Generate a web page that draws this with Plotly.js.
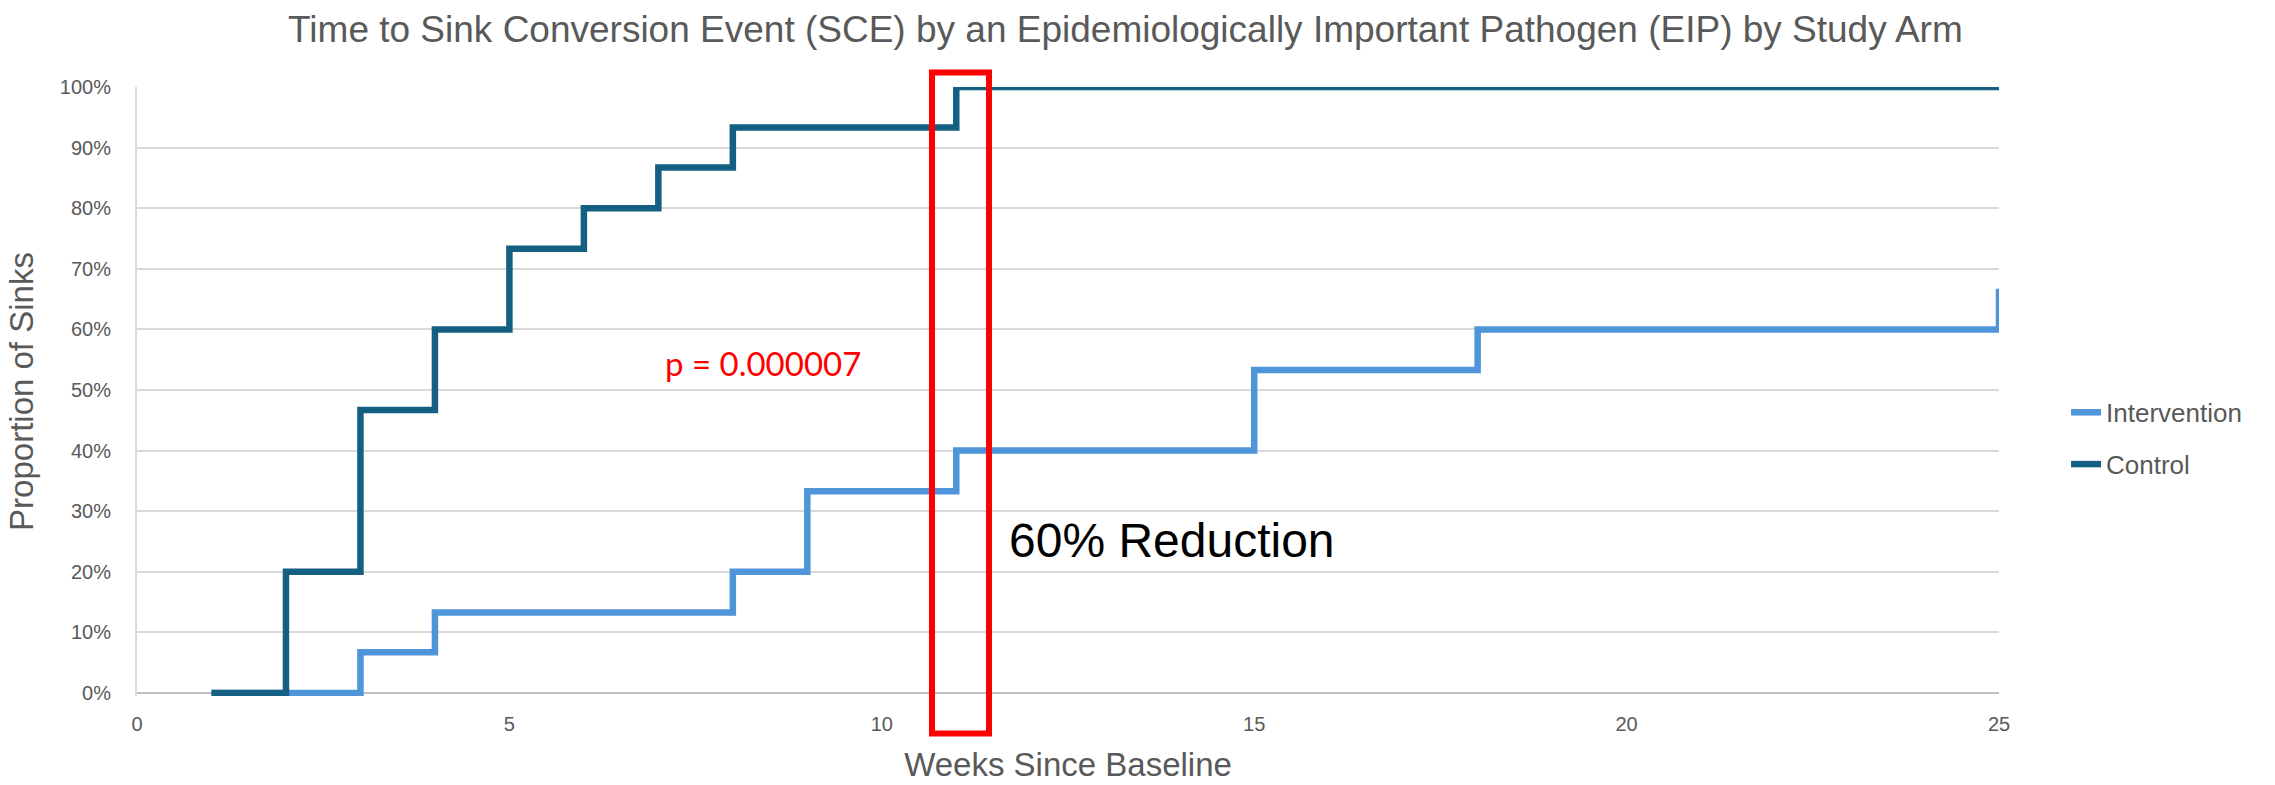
<!DOCTYPE html>
<html>
<head>
<meta charset="utf-8">
<script src="https://cdn.plot.ly/plotly-3.0.1.min.js"></script>
<style>
  html, body { margin: 0; padding: 0; background: #ffffff; }
  #chart { width: 2275px; height: 785px; }
</style>
</head>
<body>
<div id="chart"></div>
<script>
// ---- Data ----
const seriesNames = ["Intervention", "Control"];
const interventionWeeks = [1, 3, 4, 8, 9, 11, 15, 18, 25];
const interventionProp  = [0, 0.067, 0.133, 0.2, 0.333, 0.4, 0.533, 0.6, 0.667];
const controlWeeks = [1, 2, 3, 4, 5, 6, 7, 8, 11, 25];
const controlProp  = [0, 0.2, 0.467, 0.6, 0.733, 0.8, 0.867, 0.933, 1, 1];
const xTickVals = [0, 5, 10, 15, 20, 25];
const yTickVals = [0, 0.1, 0.2, 0.3, 0.4, 0.5, 0.6, 0.7, 0.8, 0.9, 1];
const titleText = "Time to Sink Conversion Event (SCE) by an Epidemiologically Important Pathogen (EIP) by Study Arm";
const xTitleText = "Weeks Since Baseline";
const yTitleText = "Proportion of Sinks";
const pValueText = "p = 0.000007";
const reductionText = "60% Reduction";

const gray = "#595959";
const baseFont = "Liberation Sans, Arial, sans-serif";

const traces = [
  {
    x: interventionWeeks, y: interventionProp, name: seriesNames[0],
    type: "scatter", mode: "lines", line: { shape: "hv", color: "#4e95d9", width: 6.5 },
    legendgroup: "a"
  },
  {
    x: controlWeeks, y: controlProp, name: seriesNames[1],
    type: "scatter", mode: "lines", line: { shape: "hv", color: "#156082", width: 6.5 },
    legendgroup: "b"
  }
];

const layout = {
  width: 2275, height: 785,
  margin: { l: 137, r: 276, t: 87, b: 89, pad: 0 },
  paper_bgcolor: "#ffffff", plot_bgcolor: "#ffffff",
  font: { family: baseFont, color: gray },
  title: {
    text: titleText, font: { family: baseFont, size: 37, color: gray },
    x: 0.4947, xref: "container", xanchor: "center",
    y: 0.963, yref: "container", yanchor: "middle"
  },
  xaxis: {
    range: [0, 25], tickvals: xTickVals, ticks: "", showgrid: false,
    zeroline: false, showline: false,
    tickfont: { size: 20, color: gray }, ticklabelstandoff: 14,
    title: { text: xTitleText, font: { size: 33, color: gray }, standoff: 18 }
  },
  yaxis: {
    range: [-0.005, 1], tickvals: yTickVals, tickformat: ".0%", ticks: "",
    showgrid: true, gridcolor: "#d9d9d9", gridwidth: 2,
    zeroline: true, zerolinecolor: "#bfbfbf", zerolinewidth: 2,
    showline: true, linecolor: "#d9d9d9", linewidth: 2,
    tickfont: { size: 20, color: gray }, ticklabelstandoff: 20,
    title: { text: yTitleText, font: { size: 33, color: gray }, standoff: 16 }
  },
  showlegend: true,
  legend: {
    x: 1.036, xref: "paper", xanchor: "left",
    y: 0.423, yanchor: "middle",
    font: { size: 26, color: gray }, tracegroupgap: 15,
    bgcolor: "rgba(0,0,0,0)", borderwidth: 0
  },
  shapes: [
    {
      type: "rect", xref: "paper", yref: "paper",
      x0: 0.42696, x1: 0.45757, y0: -0.0616, y1: 1.0238,
      line: { color: "#ff0000", width: 6 }, fillcolor: "rgba(0,0,0,0)", layer: "above"
    }
  ],
  annotations: [
    {
      text: pValueText, x: 7.076, y: 0.545, xref: "x", yref: "y",
      xanchor: "left", yanchor: "middle", showarrow: false, borderpad: 0,
      font: { family: "Lato, sans-serif", size: 33, color: "#ff0000" }
    },
    {
      text: reductionText, x: 11.69, y: 0.252, xref: "x", yref: "y",
      xanchor: "left", yanchor: "middle", showarrow: false, borderpad: 0,
      font: { family: baseFont, size: 48, color: "#000000" }
    }
  ]
};

Plotly.newPlot("chart", traces, layout, { displayModeBar: false, staticPlot: true });
</script>
</body>
</html>
